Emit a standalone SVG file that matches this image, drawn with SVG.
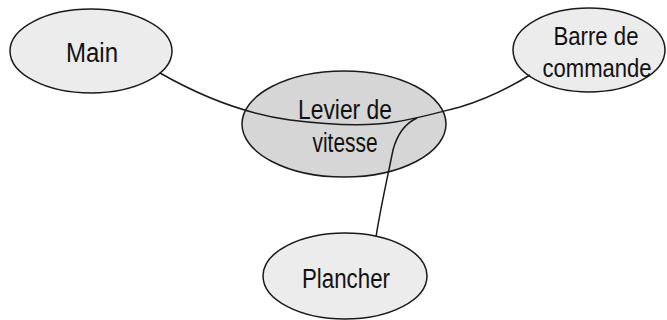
<svg xmlns="http://www.w3.org/2000/svg" width="667" height="320" viewBox="0 0 667 320">
<style>
.node ellipse{stroke:#1a1a1a;stroke-width:1.5}
.light{fill:#ececec}
.dark{fill:#d6d6d6}
.lbl{font-family:"Liberation Sans",Arial,sans-serif;font-size:27px;fill:#111;text-anchor:middle}
.conn path{fill:none;stroke:#1a1a1a;stroke-width:1.5}
</style>
<rect width="667" height="320" fill="#ffffff"/>
<g id="main" class="node">
<ellipse class="light" cx="91" cy="51" rx="81" ry="42"/>
<text class="lbl" x="92" y="62" textLength="52" lengthAdjust="spacingAndGlyphs">Main</text>
</g>
<g id="barre" class="node">
<ellipse class="light" cx="589" cy="50" rx="76" ry="42"/>
<text class="lbl" x="596" y="45" style="font-size:25px" textLength="85" lengthAdjust="spacingAndGlyphs">Barre de</text>
<text class="lbl" x="597" y="77" style="font-size:25px" textLength="109" lengthAdjust="spacingAndGlyphs">commande</text>
</g>
<g id="levier" class="node">
<ellipse class="dark" cx="344" cy="124" rx="102" ry="53"/>
<text class="lbl" x="345" y="119" textLength="94" lengthAdjust="spacingAndGlyphs">Levier de</text>
<text class="lbl" x="345" y="152" textLength="65" lengthAdjust="spacingAndGlyphs">vitesse</text>
</g>
<g id="plancher" class="node">
<ellipse class="light" cx="345" cy="276" rx="82" ry="43"/>
<text class="lbl" x="346" y="288" textLength="88" lengthAdjust="spacingAndGlyphs">Plancher</text>
</g>
<g id="connectors" class="conn">
<path d="M160,73 C195,93 240,113 290,120 C330,125 370,126 395,122 C420,118 440,112 460,107 C490,98 512,86 530,75"/>
<path d="M417,118 C404,124 397,135 393,150 C389,170 380,210 376,237"/>
</g>
</svg>
